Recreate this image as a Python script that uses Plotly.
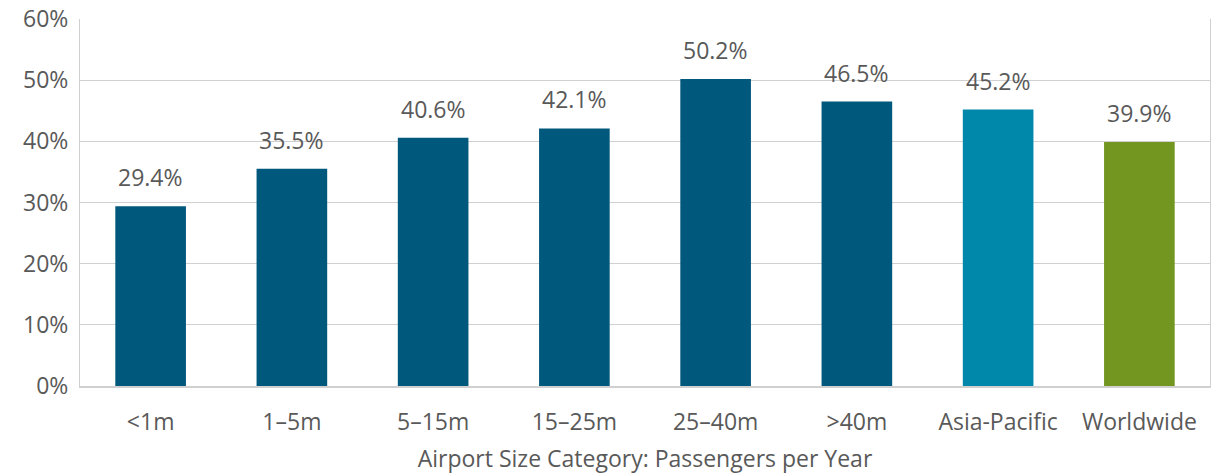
import plotly.graph_objects as go

categories = ["<1m", "1–5m", "5–15m", "15–25m", "25–40m", ">40m", "Asia-Pacific", "Worldwide"]
values = [29.4, 35.5, 40.6, 42.1, 50.2, 46.5, 45.2, 39.9]
colors = ["#00587C"] * 6 + ["#0088AB", "#72961F"]
labels = [f"{v:.1f}%" for v in values]

font = "Open Sans, Noto Sans, sans-serif"
tc = "#595959"
fs = 23

fig = go.Figure(go.Bar(
    x=categories, y=values, marker=dict(color=colors, line=dict(width=0)),
    width=0.5, hoverinfo="x+y",
))
for c, v, t in zip(categories, values, labels):
    fig.add_annotation(x=c, y=v, text=t, showarrow=False, yanchor="bottom",
                       yshift=11, font=dict(size=fs, color=tc, family=font))
fig.update_layout(
    width=1211, height=476, margin=dict(l=80, r=1, t=19, b=90, autoexpand=False),
    plot_bgcolor="white", paper_bgcolor="white", showlegend=False,
    font=dict(family=font, color=tc, size=fs),
)
fig.update_yaxes(range=[0, 60], dtick=10, ticksuffix="%", showgrid=True,
                 gridcolor="#D0D0D0", gridwidth=1, showline=True, mirror=True,
                 linecolor="#D0D0D0", linewidth=1, zeroline=False, automargin=False,
                 tickfont=dict(size=fs, color=tc), ticks="", ticklabelstandoff=6)
fig.update_xaxes(showline=True, linecolor="#D0D0D0", linewidth=2, ticks="",
                 automargin=False,
                 tickfont=dict(size=fs, color=tc), ticklabelstandoff=14,
                 title=dict(text="Airport Size Category: Passengers per Year",
                            font=dict(size=fs, color=tc), standoff=15))
fig.write_html("out.html", config={"displayModeBar": False},
               post_script="document.body.style.margin='0';document.body.style.overflow='hidden';")
